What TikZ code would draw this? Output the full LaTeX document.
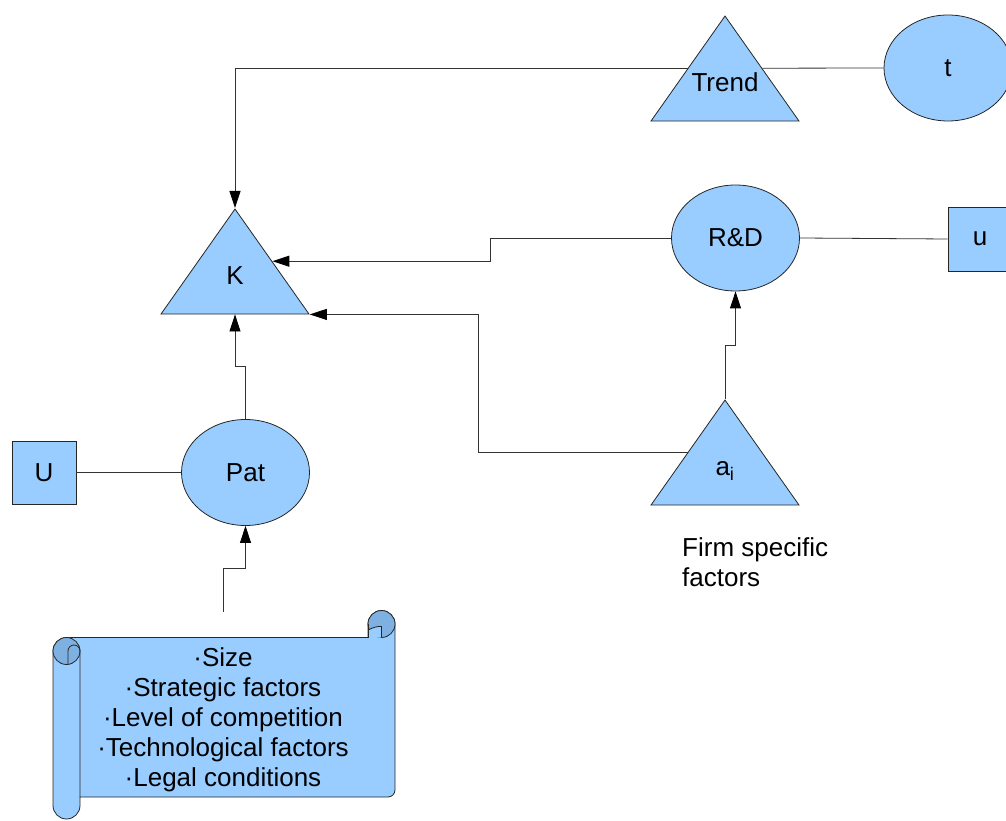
\documentclass[tikz,border=0pt]{standalone}
\usepackage{fontspec}
\setmainfont{Liberation Sans}
\usepackage{tikz}
\usetikzlibrary{arrows.meta,shapes.geometric,positioning}
\tikzset{font={\fontsize{26pt}{30pt}\selectfont}}
\definecolor{boxblue}{HTML}{99CCFF}
\definecolor{rollblue}{HTML}{7FB0E2}
\definecolor{wire}{HTML}{333333}
\newcommand{\trilabel}[1]{\makebox[0pt]{\raisebox{-9pt}[0pt][0pt]{#1}}}

\begin{document}
\begin{tikzpicture}[x=1pt,y=1pt,
tri/.style={isosceles triangle,shape border rotate=90,isosceles triangle stretches,minimum width=148pt,minimum height=105pt,inner sep=0pt,draw=black!85,fill=boxblue,line width=0.8pt},
oval/.style={ellipse,minimum width=128pt,minimum height=106pt,inner sep=0pt,draw=black!85,fill=boxblue,line width=0.8pt},
sq/.style={rectangle,minimum width=64pt,minimum height=64pt,inner sep=0pt,draw=black!85,fill=boxblue,line width=0.8pt},
con/.style={draw=wire,line width=0.8pt},
arr/.style={con,-{Triangle[length=17pt,width=11pt,color=black]}}
]
\useasboundingbox (0,0) rectangle (1006,820);

\node[tri,anchor=apex] (trend) at (725,805) {\trilabel{Trend}};
\node[oval] (t) at (948,752) {t};

\node[tri,anchor=apex] (k) at (235,612) {\trilabel{K}};

\node[oval] (rd) at (735.5,582) {R\&D};
\node[sq] (u) at (980,581) {u};

\node[tri,anchor=apex] (ai) at (725,421) {\trilabel{a\textsubscript{i}}};
\node[anchor=west,align=left,inner sep=0pt] (firm) at (682,258) {Firm specific\\factors};

\node[oval] (pat) at (245.5,347.5) {Pat};
\node[sq,minimum height=63pt] (U) at (44,347.5) {U};

%scroll
\filldraw[fill=boxblue,draw=black!85,line width=0.8pt]
 (53,169) arc[start angle=180,end angle=90,radius=13.5] -- (368,182.5) -- (368,196)
 arc[start angle=180,end angle=0,radius=13.5] -- (395,30)
 arc[start angle=0,end angle=-90,radius=7] -- (80,23) -- (80,14.5)
 arc[start angle=0,end angle=-180,radius=13.5] -- cycle;
\filldraw[fill=rollblue,draw=black!85,line width=0.8pt] (381.5,196) circle[radius=13.5];
\fill[boxblue] (368,182.5) -- (368,190) .. controls (373,192.5) and (378,194) .. (381.5,193.5) -- (381.5,182.5) -- cycle;
\draw[black!85,line width=0.8pt] (368,182.5) -- (368,196);
\draw[black!85,line width=0.8pt] (368,190) .. controls (373,192.5) and (378,194) .. (381.5,193.5) -- (381.5,182.5);
\filldraw[fill=rollblue,draw=black!85,line width=0.8pt] (66.5,169) circle[radius=13.5];
\draw[black!85,line width=0.8pt] (68,155.5) -- (68,169) arc[start angle=180,end angle=0,radius=6] -- (80,23);

\node[minimum width=344pt,minimum height=216pt,inner sep=0pt,align=center] (scroll) at (223,100)
 {·Size\\·Strategic factors\\·Level of competition\\·Technological factors\\·Legal conditions};

%links
\draw[arr] (trend.left side) -| (k.apex);
\draw[con] (trend.right side) -- (t.west);
\draw[arr] (rd.west) -- ++(-181,0) |- (k.right side);
\draw[con] (rd.east) -- (u.west);
\draw[arr] (ai.apex) -- ++(0,54) -| (rd.south);
\draw[arr] (ai.left side) -- ++(-209,0) |- (k.right corner);
\draw[arr] (pat.north) -- ++(0,53) -| (k.lower side);
\draw[con] (U.east) -- (pat.west);
\draw[arr] (scroll.north) -- ++(0,43) -| (pat.south);

\end{tikzpicture}
\end{document}
